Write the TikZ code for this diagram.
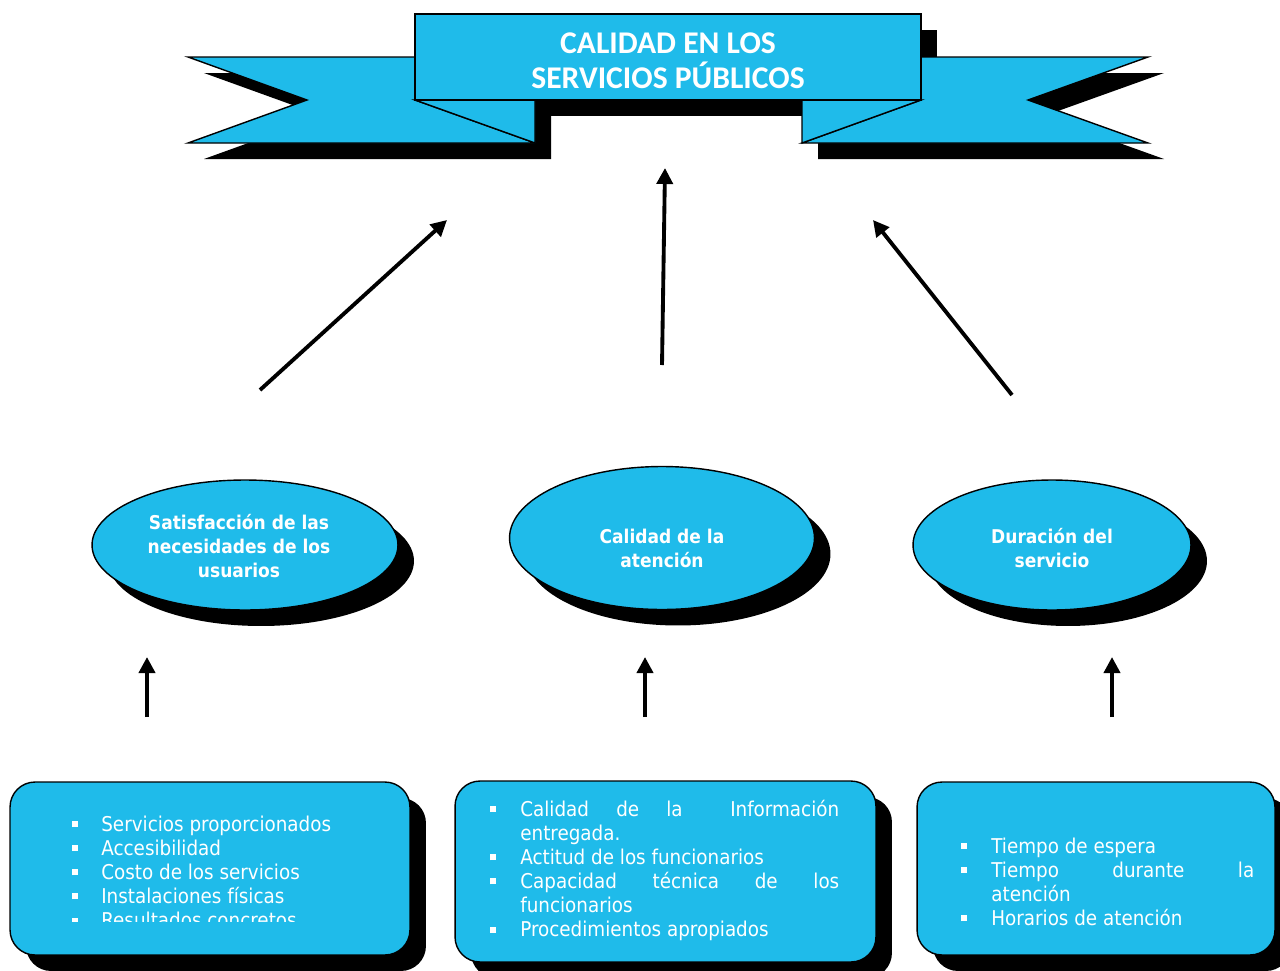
\documentclass[tikz,border=0pt]{standalone}
\usepackage{fontspec}
\setmainfont{DejaVu Sans Condensed}
\newfontfamily\titulofont{Carlito}
\usetikzlibrary{shapes.geometric,shadows,arrows.meta}

\definecolor{cielo}{RGB}{31,187,234}
\hyphenpenalty=10000
\exhyphenpenalty=10000

\newcommand{\cuadro}{\raisebox{0.08cm}{\rule{0.12cm}{0.12cm}}}

\tikzset{
  cinta/.style={fill=cielo,draw=black,line width=0.8pt,line join=miter},
  burbuja/.style={ellipse,fill=cielo,draw=black,line width=0.8pt,inner sep=0pt,
    drop shadow={shadow xshift=0.32cm,shadow yshift=-0.32cm,fill=black,opacity=1}},
  rotulo/.style={text=white,align=center,inner sep=0pt,font=\bfseries\fontsize{10.8}{13.6}\selectfont},
  caja/.style={rectangle,rounded corners=0.5cm,fill=cielo,draw=black,line width=0.8pt,
    drop shadow={shadow xshift=0.32cm,shadow yshift=-0.32cm,fill=black,opacity=1}},
  lista/.style={anchor=base west,inner sep=0pt,text=white,font=\fontsize{11.6}{13.75}\selectfont},
  flecha/.style={-{Triangle[length=0.32cm,width=0.32cm]},line width=2.2pt}
}

\begin{document}
\begin{tikzpicture}[x=0.02cm,y=-0.02cm]
\useasboundingbox (0,0) rectangle (1280,970);

% sombra de la cinta
\begin{scope}[shift={(16,16)}]
  \fill (188,57) -- (415,57) -- (415,100) -- (535,100) -- (535,143) -- (188,143) -- (307,100) -- cycle;
  \fill (1148,57) -- (921,57) -- (921,100) -- (802,100) -- (802,143) -- (1148,143) -- (1028,100) -- cycle;
  \fill (415,14) rectangle (921,100);
\end{scope}

% cinta
\draw[cinta] (188,57) -- (415,57) -- (415,100) -- (535,143) -- (188,143) -- (307,100) -- cycle;
\draw[cinta] (415,100) -- (535,100) -- (535,143) -- cycle;
\draw[cinta] (1148,57) -- (921,57) -- (921,100) -- (802,143) -- (1148,143) -- (1028,100) -- cycle;
\draw[cinta] (921,100) -- (802,100) -- (802,143) -- cycle;
\node[cinta,minimum width=10.12cm,minimum height=1.72cm,inner sep=0pt] (calidad) at (668,57) {};
\node[text=white,align=center,font=\titulofont\bfseries\fontsize{18}{20}\selectfont]
  (titulo) at (668,61) {CALIDAD EN LOS\\SERVICIOS PÚBLICOS};

% dimensiones
\node[burbuja,minimum width=6.12cm,minimum height=2.6cm] (satis) at (245,545) {};
\node[burbuja,minimum width=6.1cm,minimum height=2.86cm] (atencion) at (662,538) {};
\node[burbuja,minimum width=5.56cm,minimum height=2.6cm] (duracion) at (1052,545) {};
\node[rotulo] (satis-txt) at (239,546) {Satisfacción de las\\necesidades de los\\usuarios};
\node[rotulo] (atencion-txt) at (662,548) {Calidad de la\\atención};
\node[rotulo] (duracion-txt) at (1052,548) {Duración del\\servicio};

% factores
\node[caja,minimum width=8cm,minimum height=3.46cm] (factA) at (210,868.5) {};
\node[caja,minimum width=8.42cm,minimum height=3.62cm] (factB) at (665.5,871.5) {};
\node[caja,minimum width=7.16cm,minimum height=3.46cm] (factC) at (1096,868.5) {};

\begin{scope}
  \clip (0,0) rectangle (1280,921);
  \node[lista] (listaA) at (72,831) {\begin{tabular}[t]{@{}p{0.58cm}@{}l@{}}
    \cuadro & Servicios proporcionados\\
    \cuadro & Accesibilidad\\
    \cuadro & Costo de los servicios\\
    \cuadro & Instalaciones físicas\\
    \cuadro & Resultados concretos
  \end{tabular}};
\end{scope}
\node[lista] (listaB) at (490,816) {\begin{tabular}[t]{@{}p{0.6cm}@{}p{6.38cm}@{}}
    \cuadro & Calidad de la \quad Información entregada.\\
    \cuadro & Actitud de los funcionarios\\
    \cuadro & Capacidad técnica de los funcionarios\\
    \cuadro & Procedimientos apropiados
  \end{tabular}};
\node[lista] (listaC) at (961,853) {\begin{tabular}[t]{@{}p{0.6cm}@{}p{5.26cm}@{}}
    \cuadro & Tiempo de espera\\
    \cuadro & Tiempo durante la\linebreak atención\\
    \cuadro & Horarios de atención
  \end{tabular}};

% flechas
\coordinate (s1) at (260,390);  \coordinate (t1) at (447,220);
\coordinate (s2) at (662,365);  \coordinate (t2) at (665,168);
\coordinate (s3) at (1012,395); \coordinate (t3) at (873,220);
\coordinate (u1) at (147,717);  \coordinate (v1) at (147,657);
\coordinate (u2) at (645,717);  \coordinate (v2) at (645,657);
\coordinate (u3) at (1112,717); \coordinate (v3) at (1112,657);
\draw[flecha] (s1) -- (t1);
\draw[flecha] (s2) -- (t2);
\draw[flecha] (s3) -- (t3);
\draw[flecha] (u1) -- (v1);
\draw[flecha] (u2) -- (v2);
\draw[flecha] (u3) -- (v3);
\end{tikzpicture}
\end{document}
